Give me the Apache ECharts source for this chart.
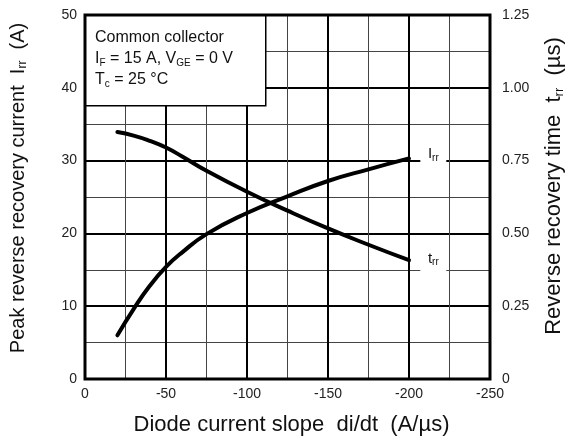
<!DOCTYPE html>
<html>
<head>
<meta charset="utf-8">
<script src="https://cdn.jsdelivr.net/npm/echarts@6/dist/echarts.min.js"></script>
<style>
  html, body { margin: 0; padding: 0; background: #fff; }
  #chart { width: 566px; height: 443px; }
</style>
</head>
<body>
<div id="chart"></div>
<script>
  // Irr curve: di/dt (A/us) and peak reverse recovery current (A)
  const irrSlope = [-20, -30, -40, -50, -60, -75, -100, -125, -150, -175, -200];
  const irrValues = [6.0, 9.6, 12.8, 15.4, 17.4, 19.9, 22.8, 25.1, 27.2, 28.8, 30.3];
  // trr curve: di/dt (A/us) and reverse recovery time (us)
  const trrSlope = [-20, -30, -40, -50, -60, -75, -100, -125, -150, -175, -200];
  const trrValues = [0.848, 0.836, 0.818, 0.795, 0.764, 0.715, 0.643, 0.578, 0.517, 0.461, 0.408];
  const rightTicks = ['0', '0.25', '0.50', '0.75', '1.00', '1.25'];

  const font = '"Liberation Sans", Arial, sans-serif';
  const chart = echarts.init(document.getElementById('chart'));

  function titleRich(size) {
    return {
      n: { fontSize: size, color: '#111', fontFamily: font },
      s: { fontSize: Math.round(size * 0.6), color: '#111', fontFamily: font, padding: [Math.round(size * 0.5), 0, 0, 0] }
    };
  }

  const tagRich = {
    n: { fontSize: 15, color: '#111', fontFamily: font },
    s: { fontSize: 10, color: '#111', fontFamily: font, padding: [8, 0, 0, 0] }
  };

  const option = {
    animation: false,
    textStyle: { fontFamily: font },
    grid: {
      left: 85, right: 76, top: 15, bottom: 64,
      containLabel: false, outerBoundsMode: 'none',
      show: true, borderColor: '#000', borderWidth: 3, z: 5
    },
    xAxis: {
      type: 'value', min: -250, max: 0, interval: 50, inverse: true,
      name: 'Diode current slope  di/dt  (A/µs)',
      nameLocation: 'middle', nameGap: 35,
      nameTextStyle: { fontSize: 22, color: '#111', fontFamily: font, padding: [0, 0, 0, 8] },
      axisLine: { show: false }, axisTick: { show: false },
      axisLabel: { fontSize: 14, color: '#222', margin: 8, fontFamily: font },
      splitLine: { show: true, lineStyle: { color: '#000', width: 2 } },
      minorTick: { show: false, splitNumber: 2 },
      minorSplitLine: { show: true, lineStyle: { color: '#444', width: 1 } }
    },
    yAxis: [
      {
        type: 'value', min: 0, max: 50, interval: 10,
        name: '{n|Peak reverse recovery current  I}{s|rr}{n|  (A)}',
        nameLocation: 'middle', nameGap: 56, nameRotate: 90,
        nameTextStyle: { rich: titleRich(20), padding: [0, 0, 0, 18] },
        axisLine: { show: false }, axisTick: { show: false },
        axisLabel: { fontSize: 14, color: '#222', margin: 8, fontFamily: font },
        splitLine: { show: true, lineStyle: { color: '#000', width: 2 } },
        minorTick: { show: false, splitNumber: 2 },
        minorSplitLine: { show: true, lineStyle: { color: '#444', width: 1 } }
      },
      {
        type: 'value', min: 0, max: 1.25, interval: 0.25,
        name: '{n|Reverse recovery time  t}{s|rr}{n|  (µs)}',
        nameLocation: 'middle', nameGap: 52, nameRotate: 90,
        nameTextStyle: { rich: titleRich(22), padding: [0, 0, 0, 22] },
        axisLine: { show: false }, axisTick: { show: false },
        axisLabel: {
          fontSize: 14, color: '#222', margin: 12, fontFamily: font,
          formatter: (v) => rightTicks[Math.round(v / 0.25)]
        },
        splitLine: { show: false }
      }
    ],
    graphic: [
      {
        type: 'rect', left: 85, top: 15, z: 10,
        shape: { width: 180, height: 90 },
        style: { fill: '#fff', stroke: '#000', lineWidth: 1.5 }
      },
      {
        type: 'text', left: 95, top: 30, z: 11,
        style: {
          text: '{n|Common collector}\n{n|I}{s|F}{n| = 15 A, V}{s|GE}{n| = 0 V}\n{n|T}{s|c}{n| = 25 °C}',
          rich: {
            n: { fontSize: 16, fontFamily: font, fill: '#111', lineHeight: 21 },
            s: { fontSize: 10, fontFamily: font, fill: '#111', lineHeight: 21, padding: [9, 0, 0, 0] }
          }
        }
      }
    ],
    series: [
      {
        name: 'Irr', type: 'line', yAxisIndex: 0, smooth: true, symbol: 'none', z: 6,
        data: irrSlope.map((x, i) => [x, irrValues[i]]),
        lineStyle: { color: '#000', width: 4, cap: 'round' },
        markPoint: {
          symbol: 'rect', symbolSize: [26, 26],
          itemStyle: { color: '#fff' },
          label: { position: 'inside', formatter: '{n|I}{s|rr}', rich: tagRich },
          data: [{ coord: [-215, 30.9] }]
        }
      },
      {
        name: 'trr', type: 'line', yAxisIndex: 1, smooth: true, symbol: 'none', z: 6,
        data: trrSlope.map((x, i) => [x, trrValues[i]]),
        lineStyle: { color: '#000', width: 4, cap: 'round' },
        markPoint: {
          symbol: 'rect', symbolSize: [26, 26],
          itemStyle: { color: '#fff' },
          label: { position: 'inside', formatter: '{n|t}{s|rr}', rich: tagRich },
          data: [{ coord: [-215, 0.413] }]
        }
      }
    ]
  };

  chart.setOption(option);
</script>
</body>
</html>
